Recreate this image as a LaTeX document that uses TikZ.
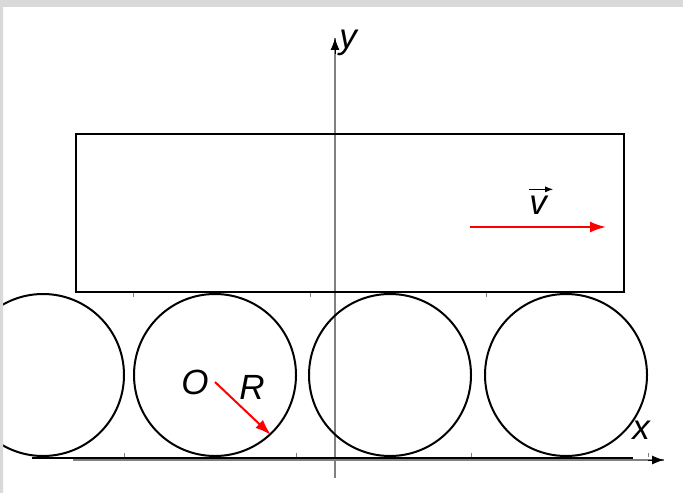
\documentclass[tikz,border=0pt]{standalone}
\usepackage{fontspec}
\setmainfont{Liberation Sans}
\usetikzlibrary{
  positioning,
  arrows.meta
}
\definecolor{framegray}{RGB}{217, 217, 217}
\definecolor{axisgray}{RGB}{128, 128, 128}
\tikzset{
  wheel/.style={
    draw, circle, line width=1pt,
    minimum size=81pt, inner sep=0pt
  },
  cart/.style={
    draw, line width=1pt,
    minimum width=274pt,
    minimum height=79pt,
    inner sep=0pt
  },
  vecarrow/.style={red, line width=1pt, -{Latex[length=8pt, width=5.5pt]}},
  letter/.style={font=\fontsize{17.5}{20}\selectfont\itshape, inner sep=0pt}
}

\begin{document}
\begin{tikzpicture}[
  x=0.5pt, y=-0.5pt,
  tick/.style={axisgray, line width=0.4pt}
]
\useasboundingbox (0,0) rectangle (683,492);
\fill[white] (-5,-5) rectangle (690,500);

% axes
\coordinate (xstart) at (73,460);
\coordinate (xend) at (664,460);
\coordinate (ystart) at (335,478);
\coordinate (yend) at (335,38);
\draw[axisgray, line width=0.6pt] (xstart) -- (xend);
\draw[axisgray, line width=0.6pt] (ystart) -- (yend);
\draw[black, -{Latex[length=6pt, width=4.5pt]}] ([xshift=-8pt]xend) -- (xend);
\draw[black, -{Latex[length=6pt, width=4.5pt]}] ([yshift=-8pt]yend) -- (yend);
\node[letter] (ylabel) at (348,43) {y};
\node[letter] (xlabel) at (641,430) {x};

% cart
\node[cart] (cart) at (350,213) {};
\foreach \tx in {133,310,486}
  \draw[tick] (\tx,293) -- (\tx,297);

% ground
\coordinate (groundleft) at (32,458);
\coordinate (groundright) at (633,458);
\draw[line width=1.3pt] (groundleft) -- (groundright);
\foreach \tx in {124,296,471,648}
  \draw[tick] (\tx,457) -- (\tx,453);

% wheels
\node[wheel] (wheel1) at (43,375) {};
\node[wheel] (wheel2) at (215,375) {};
\node[wheel] (wheel3) at (390,375) {};
\node[wheel] (wheel4) at (566,375) {};

% radius
\node[letter] (olabel) at (195,382) {O};
\node[letter] (rlabel) at (252,387) {R};
\draw[vecarrow] ([yshift=-3.5pt]wheel2.center) -- (wheel2.-47);

% velocity
\coordinate (vstart) at (470,227);
\coordinate (vend) at (606,227);
\draw[vecarrow] (vstart) -- (vend);
\node[letter] (vlabel) at (538,205) {v};
\draw[line width=0.5pt, -{Latex[length=4pt, width=3pt]}] ([yshift=3pt]vlabel.north west) -- ([xshift=3pt, yshift=3pt]vlabel.north east);

% frame
\fill[framegray, even odd rule] (-5,-5) rectangle (690,500) (3,7) rectangle (690,500);
\end{tikzpicture}
\end{document}
